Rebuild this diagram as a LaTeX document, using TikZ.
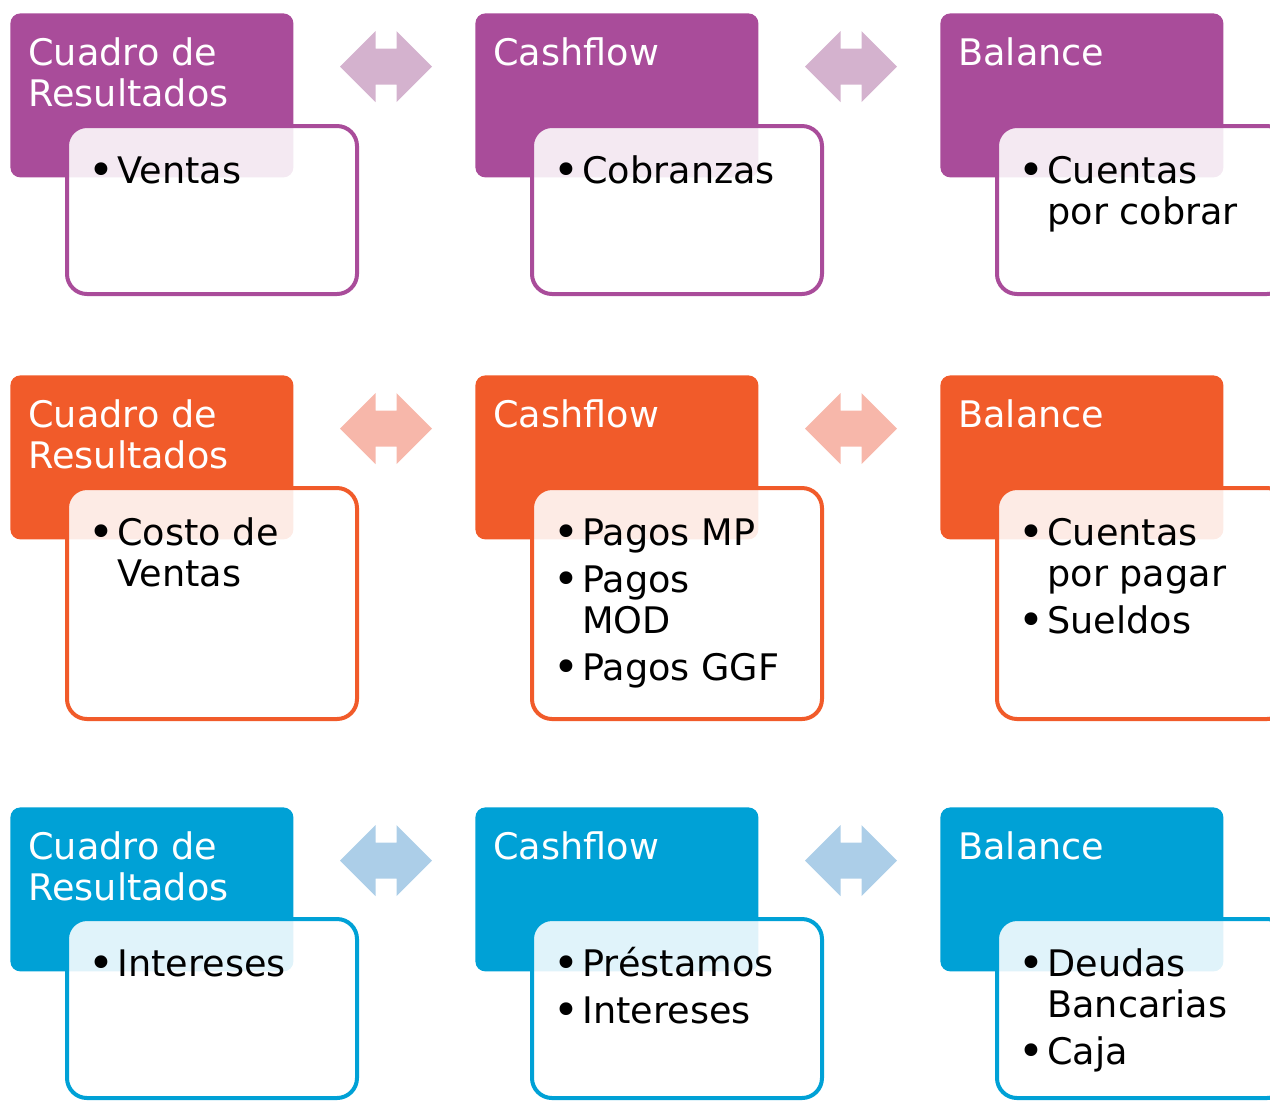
\documentclass[tikz,border=0pt]{standalone}
\usepackage{fontspec}
\setmainfont{DejaVu Sans}
\usetikzlibrary{positioning}

\definecolor{morado}{RGB}{169,76,154}
\definecolor{moradoC}{RGB}{212,178,206}
\definecolor{naranja}{RGB}{241,91,42}
\definecolor{naranjaC}{RGB}{247,183,170}
\definecolor{celeste}{RGB}{0,161,214}
\definecolor{celesteC}{RGB}{172,206,232}

\newcommand\fsz{\fontsize{18.3pt}{20.5pt}\selectfont}
\newcommand\tope{\rule{0pt}{15pt}}
\newcommand\bul{\makebox[11pt][l]{\makebox[6pt][c]{\raisebox{-1pt}{\scalebox{1.2}{\textbullet}}}}}
\newcommand\sng{\hspace*{11pt}}

\begin{document}
\begin{tikzpicture}[x=0.5pt, y=-0.5pt,
        hd/.style={fill=#1, rounded corners=5pt, minimum width=141.5pt, minimum height=82pt, anchor=north west, inner sep=0pt},
        det/.style={draw=#1, line width=2pt, fill=white, fill opacity=0.88, rounded corners=10pt, minimum width=145pt, anchor=north west, inner sep=0pt},
        ttl/.style={text=white, font=\fsz, align=left, anchor=north west, inner sep=0pt},
        itm/.style={text=black, font=\fsz, align=left, anchor=north west, inner sep=0pt}]

    \clip (0,0) rectangle (1270,1100);

    % encabezados
    \node[hd=morado]  (hCR1) at (10,13)  {};
    \node[hd=morado]  (hCF1) at (475,13) {};
    \node[hd=morado]  (hB1)  at (940,13) {};
    \node[hd=naranja] (hCR2) at (10,375)  {};
    \node[hd=naranja] (hCF2) at (475,375) {};
    \node[hd=naranja] (hB2)  at (940,375) {};
    \node[hd=celeste] (hCR3) at (10,807)  {};
    \node[hd=celeste] (hCF3) at (475,807) {};
    \node[hd=celeste] (hB3)  at (940,807) {};

    % detalles
    \node[det=morado, minimum height=84pt]     (dCR1) at ([shift={(55,111)}]hCR1.north west) {};
    \node[det=morado, minimum height=84pt]     (dCF1) at ([shift={(55,111)}]hCF1.north west) {};
    \node[det=morado, minimum height=84pt]     (dB1)  at ([shift={(55,111)}]hB1.north west) {};
    \node[det=naranja, minimum height=115.5pt] (dCR2) at ([shift={(55,111)}]hCR2.north west) {};
    \node[det=naranja, minimum height=115.5pt] (dCF2) at ([shift={(55,111)}]hCF2.north west) {};
    \node[det=naranja, minimum height=115.5pt] (dB2)  at ([shift={(55,111)}]hB2.north west) {};
    \node[det=celeste, minimum height=89.5pt]  (dCR3) at ([shift={(55,110)}]hCR3.north west) {};
    \node[det=celeste, minimum height=89.5pt]  (dCF3) at ([shift={(55,110)}]hCF3.north west) {};
    \node[det=celeste, minimum height=89.5pt]  (dB3)  at ([shift={(55,110)}]hB3.north west) {};

    % titulos
    \foreach \r in {1,2,3} {
        \node[ttl] (tCR\r) at ([shift={(18,22)}]hCR\r.north west) {\tope Cuadro de\\Resultados};
        \node[ttl] (tCF\r) at ([shift={(18,22)}]hCF\r.north west) {\tope Cashflow};
        \node[ttl] (tB\r)  at ([shift={(18,22)}]hB\r.north west)  {\tope Balance};
    }

    % items
    \node[itm] (iCR1) at ([shift={(30,29)}]dCR1.north west) {\tope\bul Ventas};
    \node[itm] (iCF1) at ([shift={(30,29)}]dCF1.north west) {\tope\bul Cobranzas};
    \node[itm] (iB1)  at ([shift={(30,29)}]dB1.north west)  {\tope\bul Cuentas\\\sng por cobrar};
    \node[itm] (iCR2) at ([shift={(30,29)}]dCR2.north west) {\tope\bul Costo de\\\sng Ventas};
    \node[itm] (iCF2) at ([shift={(30,29)}]dCF2.north west) {\tope\bul Pagos MP\\[3pt]\bul Pagos\\\sng MOD\\[3pt]\bul Pagos GGF};
    \node[itm] (iB2)  at ([shift={(30,29)}]dB2.north west)  {\tope\bul Cuentas\\\sng por pagar\\[3pt]\bul Sueldos};
    \node[itm] (iCR3) at ([shift={(30,29)}]dCR3.north west) {\tope\bul Intereses};
    \node[itm] (iCF3) at ([shift={(30,29)}]dCF3.north west) {\tope\bul Préstamos\\[3pt]\bul Intereses};
    \node[itm] (iB3)  at ([shift={(30,29)}]dB3.north west)  {\tope\bul Deudas\\\sng Bancarias\\[3pt]\bul Caja};

    % flechas dobles
    \foreach \cx/\cy/\col in {386/66.5/moradoC, 851/66.5/moradoC,
                              386/428.5/naranjaC, 851/428.5/naranjaC,
                              386/860.5/celesteC, 851/860.5/celesteC}
        \fill[\col, shift={(\cx,\cy)}] (-46,0) -- (-10.5,-35.5) -- (-10.5,-18) -- (10.5,-18)
            -- (10.5,-35.5) -- (46,0) -- (10.5,35.5) -- (10.5,18) -- (-10.5,18) -- (-10.5,35.5) -- cycle;
\end{tikzpicture}
\end{document}
